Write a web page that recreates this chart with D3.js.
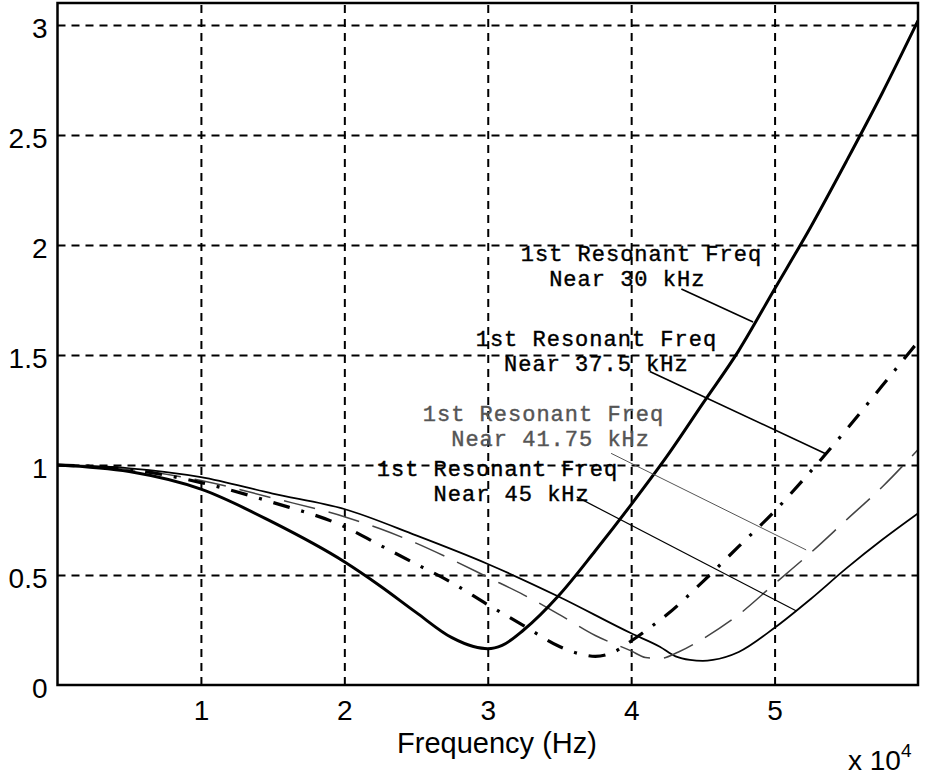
<!DOCTYPE html>
<html><head><meta charset="utf-8">
<script src="https://cdn.jsdelivr.net/npm/d3@7"></script>
<style>body{margin:0;background:#fff}svg{display:block}</style>
</head><body>
<svg id="c" width="926" height="775"></svg>
<script>
// ---- data (x in units of 10^4 Hz) ----
const xTicks = [1, 2, 3, 4, 5];
const yTicks = [0, 0.5, 1, 1.5, 2, 2.5, 3];
const xLabel = "Frequency (Hz)";

const x30  = [0,0.5,1,1.5,2,2.25,2.5,2.75,2.9,3.0,3.1,3.25,3.5,3.75,4.0,4.25,4.5,4.75,5.0,5.25,5.5,5.75,6.0];
const y30  = [1.0,0.97,0.89,0.74,0.56,0.45,0.33,0.215,0.175,0.165,0.18,0.25,0.41,0.61,0.82,1.04,1.28,1.52,1.80,2.08,2.38,2.69,3.02];

const x375 = [0,0.5,1,1.5,2,2.25,2.5,2.75,3.0,3.25,3.5,3.65,3.75,3.88,4.0,4.15,4.25,4.5,4.75,5.0,5.25,5.5,5.75,6.0];
const y375 = [1.0,0.98,0.92,0.83,0.72,0.635,0.55,0.465,0.365,0.27,0.175,0.14,0.13,0.15,0.20,0.27,0.32,0.47,0.63,0.79,0.97,1.16,1.36,1.56];

const x4175 = [0,0.5,1,1.5,2,2.25,2.5,2.75,3.0,3.25,3.5,3.75,4.0,4.1,4.2,4.33,4.5,4.75,5.0,5.25,5.5,5.75,6.0];
const y4175 = [1.0,0.98,0.93,0.85,0.765,0.71,0.645,0.57,0.49,0.41,0.32,0.225,0.155,0.125,0.12,0.15,0.21,0.32,0.46,0.60,0.75,0.90,1.07];

const x45  = [0,0.5,1,1.5,2,2.5,3.0,3.5,4.0,4.2,4.31,4.41,4.5,4.57,4.75,5.0,5.25,5.5,5.75,6.0];
const y45  = [1.0,0.985,0.945,0.87,0.80,0.68,0.55,0.40,0.235,0.174,0.13,0.114,0.11,0.114,0.15,0.26,0.39,0.53,0.66,0.78];

// annotations
const annLine1 = ["1st Resonant Freq","1st Resonant Freq","1st Resonant Freq","1st Resonant Freq"];
const annLine2 = ["  Near 30 kHz","  Near 37.5 kHz","  Near 41.75 kHz","    Near 45 kHz"];
const annTextX = [3.23, 2.916, 2.547, 2.226];
const annTextY = [1.927, 1.541, 1.20, 0.95];
const annFromX = [4.35, 4.13, 3.86, 3.62];
const annFromY = [1.80, 1.425, 1.053, 0.855];
const annToX   = [4.85, 5.36, 5.22, 5.153];
const annToY   = [1.65, 1.05, 0.614, 0.336];

// ---- drawing ----
const svg = d3.select("#c");
const L = 57.5, R = 918, T = 3, B = 685;
const x = d3.scaleLinear().domain([0, 6]).range([L, R]);
const y = d3.scaleLinear().domain([0, 3.1]).range([B, T]);
const sans = "Liberation Sans, Arial, sans-serif";

svg.append("rect").attr("width", 926).attr("height", 775).attr("fill", "#fff");

// grid
const gx = svg.append("g").attr("transform", `translate(0,${B})`)
  .call(d3.axisBottom(x).tickValues(xTicks).tickSize(-(B - T)).tickFormat(""));
gx.select(".domain").remove();
gx.selectAll("line").attr("stroke", "#000").attr("stroke-width", 2).attr("stroke-dasharray", "8,6");

const gy = svg.append("g").attr("transform", `translate(${L},0)`)
  .call(d3.axisLeft(y).tickValues(yTicks.filter(v => v > 0)).tickSize(-(R - L)).tickFormat(""));
gy.select(".domain").remove();
gy.selectAll("line").attr("stroke", "#000").attr("stroke-width", 2).attr("stroke-dasharray", "8,6");

// tick labels via axes
const ax = svg.append("g").attr("transform", `translate(0,${B})`)
  .call(d3.axisBottom(x).tickValues(xTicks).tickSize(0).tickPadding(15).tickFormat(d3.format("d")));
ax.select(".domain").remove();
ax.selectAll("text").attr("font-family", sans).attr("font-size", 28).attr("fill", "#000");

const ay = svg.append("g").attr("transform", `translate(${L},0)`)
  .call(d3.axisLeft(y).tickValues(yTicks).tickSize(0).tickPadding(10).tickFormat(d => String(d)));
ay.select(".domain").remove();
ay.selectAll("text").attr("font-family", sans).attr("font-size", 28).attr("fill", "#000").attr("dy", "0.43em");

// curves
const mk = (xs, ys) => xs.map((v, i) => [v, ys[i]]);
const line = d3.line().x(d => x(d[0])).y(d => y(d[1])).curve(d3.curveMonotoneX);
svg.append("clipPath").attr("id", "cp").append("rect")
  .attr("x", L).attr("y", T).attr("width", R - L).attr("height", B - T);
const gc = svg.append("g").attr("clip-path", "url(#cp)");

gc.append("path").datum(mk(x45, y45)).attr("d", line)
  .attr("fill", "none").attr("stroke", "#000").attr("stroke-width", 1.8);
gc.append("path").datum(mk(x4175, y4175)).attr("d", line)
  .attr("fill", "none").attr("stroke", "#444").attr("stroke-width", 1.5).attr("stroke-dasharray", "32,14");
gc.append("path").datum(mk(x375, y375)).attr("d", line)
  .attr("fill", "none").attr("stroke", "#000").attr("stroke-width", 3.2).attr("stroke-dasharray", "17,12,3,12");
gc.append("path").datum(mk(x30, y30)).attr("d", line)
  .attr("fill", "none").attr("stroke", "#000").attr("stroke-width", 3);

// annotations
const annColor = ["#000", "#000", "#555", "#000"];
const annWidth = [1.6, 1.6, 1, 1.2];
annLine1.forEach((t, i) => {
  svg.append("line")
    .attr("x1", x(annFromX[i])).attr("y1", y(annFromY[i]))
    .attr("x2", x(annToX[i])).attr("y2", y(annToY[i]))
    .attr("stroke", annColor[i]).attr("stroke-width", annWidth[i]);
  const tx = svg.append("text")
    .attr("x", x(annTextX[i])).attr("y", y(annTextY[i]))
    .attr("font-family", "Liberation Mono, Courier New, monospace")
    .attr("font-size", 22).attr("letter-spacing", 1)
    .attr("fill", annColor[i]).attr("stroke", annColor[i]).attr("stroke-width", 0.4)
    .style("white-space", "pre");
  tx.append("tspan").attr("x", x(annTextX[i])).text(t);
  tx.append("tspan").attr("x", x(annTextX[i])).attr("dy", 25).text(annLine2[i]);
});

// axes box
svg.append("rect").attr("x", L).attr("y", T).attr("width", R - L).attr("height", B - T)
  .attr("fill", "none").attr("stroke", "#000").attr("stroke-width", 2.5);

// axis label + exponent
svg.append("text").attr("x", 497).attr("y", 753).attr("text-anchor", "middle")
  .attr("font-family", sans).attr("font-size", 29).text(xLabel);
const ex = svg.append("text").attr("x", 848).attr("y", 770)
  .attr("font-family", sans).attr("font-size", 28).text("x 10");
ex.append("tspan").attr("dy", -13).attr("font-size", 19).text("4");
</script>
</body></html>
